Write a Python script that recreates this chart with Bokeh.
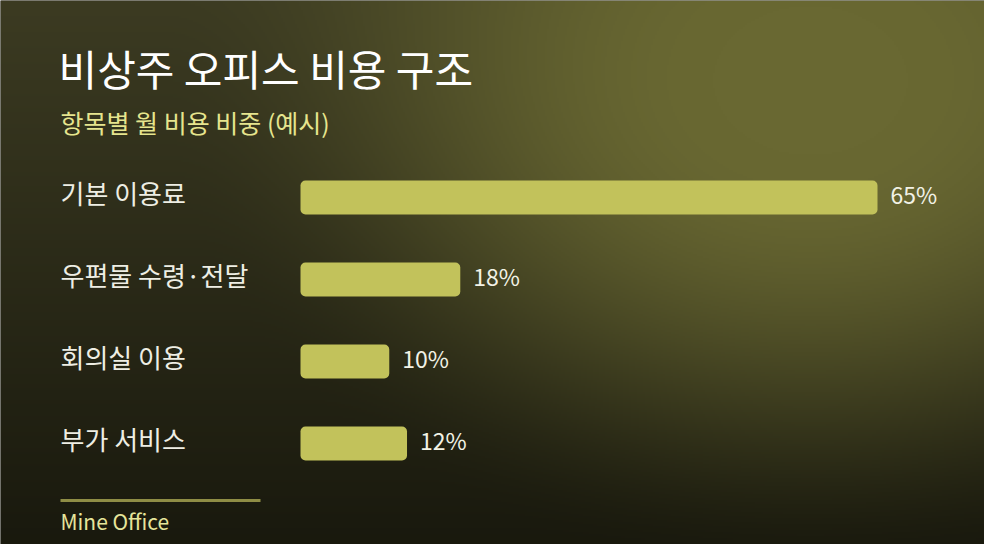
import numpy as np
from bokeh.plotting import figure
from bokeh.models import Range1d, Label, LabelSet, ColumnDataSource
from bokeh.core.properties import value
from bokeh.embed import file_html
from bokeh.resources import INLINE

# ---- data ----
categories = ["기본 이용료", "우편물 수령·전달", "회의실 이용", "부가 서비스"]
shares = [65, 18, 10, 12]
value_labels = ["65%", "18%", "10%", "12%"]
title_text = "비상주 오피스 비용 구조"
subtitle_text = "항목별 월 비용 비중 (예시)"
footer_text = "Mine Office"

# ---- layout constants ----
W, H = 984, 544
PX_PER_PCT = 577 / 65.0
BAR_X0 = 300                 # pixel of 0%
ROW0 = 197                   # pixel of first row centre
ROW_STEP = 82.0
FONT = "Noto Sans CJK KR"

x_start = -BAR_X0 / PX_PER_PCT
x_end = (W - BAR_X0) / PX_PER_PCT
y_top = ROW0 / ROW_STEP
y_bot = -(H - ROW0) / ROW_STEP

p = figure(width=W, height=H, output_backend="svg", toolbar_location=None,
           x_range=Range1d(x_start, x_end), y_range=Range1d(y_bot, y_top),
           x_axis_location=None, y_axis_location=None, min_border=0)
p.outline_line_color = None
p.grid.visible = False
p.background_fill_color = "#24241a"
p.border_fill_color = "#24241a"

# ---- background gradient (style) ----
sc = 2
hh, ww = H // sc, W // sc
ys = H - (np.arange(hh) + 0.5) * sc      # pixel y for each row (row 0 = bottom)
xs = (np.arange(ww) + 0.5) * sc
X, Y = np.meshgrid(xs, ys)
top = np.array([0x3c, 0x3b, 0x22], float)
bot = np.array([0x18, 0x18, 0x0d], float)
olive = np.array([0x69, 0x68, 0x32], float)
ty = (Y / 560.0)[..., None]
base = top * (1 - ty) + bot * ty
d = np.sqrt(((X - 810) / 650.0) ** 2 + ((Y - 80) / 500.0) ** 2)
t = np.clip((d - 0.15) / 0.85, 0, 1)
ss = t * t * (3 - 2 * t)
w = (1 - ss)[..., None]
col = base * (1 - w) + olive * w
img = np.empty((hh, ww), dtype=np.uint32)
view = img.view(dtype=np.uint8).reshape((hh, ww, 4))
view[..., 0] = col[..., 0].astype(np.uint8)
view[..., 1] = col[..., 1].astype(np.uint8)
view[..., 2] = col[..., 2].astype(np.uint8)
view[..., 3] = 255
p.image_rgba(image=[img], x=x_start, y=y_bot, dw=x_end - x_start, dh=y_top - y_bot)

# ---- bars ----
pos = [-i for i in range(len(categories))]
src = ColumnDataSource(dict(cat=categories, share=shares, lab=value_labels, y=pos))
p.hbar(y="y", left=0, right="share", height=34 / ROW_STEP, source=src,
       fill_color="#c2c25b", line_color=None, border_radius=5)

# value labels
p.text(x="share", y="y", text="lab", source=src, x_offset=13, y_offset=-4,
       text_font=value(FONT), text_font_size="23px", text_color="#f2f2e6",
       text_baseline="middle", text_align="left")

# category labels
cats = LabelSet(x=60, y="y", x_units="screen", text="cat", source=src,
                text_font=value(FONT), text_font_size="26px", text_color="#eeeee4",
                text_baseline="middle", text_align="left", y_offset=5)
p.add_layout(cats)

# ---- title texts ----
def screen_label(text, x_ref, y_ref, size, color):
    return Label(x=x_ref, y=H - y_ref, x_units="screen", y_units="screen",
                 text=text, text_font=FONT, text_font_size=size,
                 text_color=color, text_baseline="middle", text_align="left")

p.add_layout(screen_label(title_text, 58, 67, "42px", "#ffffff"))
p.add_layout(screen_label(subtitle_text, 60, 121, "25px", "#e6e58e"))
p.add_layout(screen_label(footer_text, 60, 520, "21px", "#e6e59a"))

# footer rule
p.line(x=[(60 - BAR_X0) / PX_PER_PCT, (260 - BAR_X0) / PX_PER_PCT],
       y=[-(500 - ROW0) / ROW_STEP] * 2, line_color="#8f8d45", line_width=3)

open("out.html", "w").write(file_html(p, INLINE))
